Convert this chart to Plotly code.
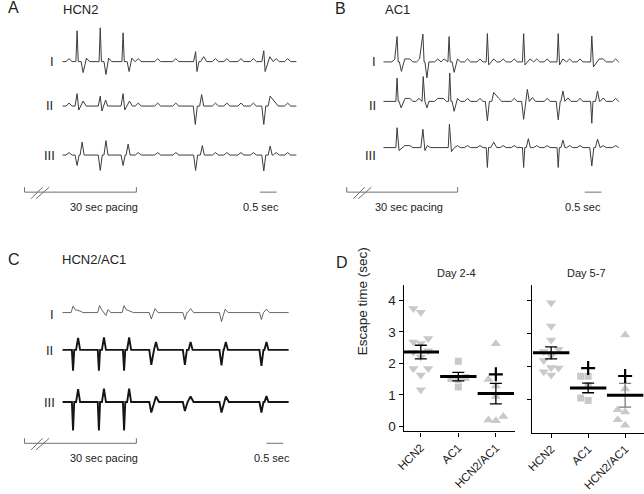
import plotly.graph_objects as go

W, H = 644, 494
FONT = "Arial, Liberation Sans, sans-serif"
PX_PER_S = 34.0  # horizontal scale of the ECG strips (px per second)

# ---------------- ECG strips: peak times (s) and peak amplitudes (a.u.) ----------------
# A  HCN2
a_I_t = [0.20, 0.44, 0.62, 0.72, 1.13, 1.30, 1.38, 1.81, 1.99, 2.07, 2.26, 2.84, 3.38,
         3.97, 4.01, 4.21, 4.56, 4.90, 5.32, 5.69, 6.00, 6.04, 6.18, 6.37, 6.71]
a_I_v = [0.3, 3.1, -1.1, 0.35, 3.4, -1.3, 0.35, 2.9, -1.0, 0.35, 0.3, 0.3, 0.3,
         1.0, -1.0, 0.5, 0.3, 0.3, 0.3, 0.3, 1.1, -1.0, 0.5, 0.3, 0.3]
a_II_t = [0.20, 0.44, 0.49, 0.62, 1.13, 1.18, 1.29, 1.81, 1.86, 2.00, 2.26, 2.84, 3.38,
          3.96, 4.15, 4.56, 4.90, 5.32, 5.69, 6.00, 6.19, 6.34, 6.71]
a_II_v = [0.3, 1.25, -0.4, 0.5, 1.0, -0.5, 0.6, 1.25, -0.4, 0.5, 0.3, 0.3, 0.3,
          -1.85, 1.15, 0.3, 0.3, 0.3, 0.3, -1.85, 1.0, 0.4, 0.3]
a_III_t = [0.20, 0.44, 0.59, 1.13, 1.30, 1.81, 1.96, 2.26, 2.84, 3.38,
           3.97, 4.17, 4.56, 4.90, 5.32, 5.69, 6.00, 6.19, 6.37, 6.71]
a_III_v = [0.25, -1.05, 1.3, -1.55, 1.45, -1.05, 1.1, 0.25, 0.25, 0.25,
           -1.55, 0.95, 0.25, 0.25, 0.25, 0.25, -1.6, 0.9, 0.25, 0.25]

# B  AC1
b_I_t = [0.34, 0.41, 0.54, 0.64, 0.79, 1.08, 1.18, 1.30, 1.62, 1.81, 1.96, 2.11, 2.21, 2.51, 2.88,
         3.10, 3.14, 3.29, 3.57, 3.90, 4.18, 4.22, 4.37, 4.57, 4.88, 5.21, 5.25, 5.35, 5.55, 5.86,
         6.21, 6.26, 6.43, 6.55, 6.92]
b_I_v = [0.25, 2.55, -0.95, 0.3, 0.3, 0.3, 2.8, -1.6, 0.3, 0.3, 2.55, -1.05, 0.3, 0.3, 0.3,
         2.85, -0.3, 0.3, 0.3, 0.3, 2.85, -0.3, 0.3, 0.3, 0.3, 2.85, -0.3, 0.3, 0.3, 0.3,
         2.6, -0.5, 0.3, 0.3, 0.3]
b_II_t = [0.41, 0.53, 0.65, 0.79, 1.06, 1.19, 1.30, 1.62, 1.79, 1.98, 2.11, 2.21, 2.51, 2.88,
          3.10, 3.29, 3.44, 3.90, 4.18, 4.29, 4.44, 4.88, 5.21, 5.35, 5.50, 5.86,
          6.21, 6.38, 6.55, 6.92]
b_II_v = [2.35, -0.65, 0.3, 0.3, 0.3, 2.5, -0.65, 0.3, 0.3, 2.85, -1.0, 0.3, 0.3, 0.3,
          -1.95, 0.9, 0.3, 0.3, -1.8, 1.2, 0.4, 0.3, -1.85, 1.05, 0.35, 0.3,
          -2.2, 1.05, 0.35, 0.3]
b_III_t = [0.41, 0.47, 0.64, 0.79, 1.18, 1.24, 1.31, 1.97, 2.03, 2.21, 2.51, 2.88,
           3.10, 3.29, 3.57, 3.90, 4.18, 4.32, 4.57, 4.88, 5.21, 5.35, 5.55, 5.86,
           6.21, 6.38, 6.55, 6.92]
b_III_v = [2.0, -0.3, 0.2, 0.2, 1.85, -0.3, 0.2, 2.35, -0.4, 0.2, 0.2, 0.2,
           -2.0, 0.55, 0.2, 0.2, -2.0, 0.9, 0.2, 0.2, -2.0, 0.75, 0.2, 0.2,
           -1.85, 0.85, 0.2, 0.2]

# C  HCN2/AC1
c_I_t = [0.32, 0.38, 0.53, 1.11, 1.17, 1.30, 1.36, 1.84, 1.90, 2.03,
         2.65, 2.76, 3.65, 3.82, 4.74, 4.85, 5.93, 6.08]
c_I_v = [0.65, 0.3, 0.15, 0.7, 0.3, -0.3, 0.3, 0.7, 0.3, 0.15,
         -0.65, 0.4, -0.7, 0.4, -0.9, 0.35, -0.7, 0.35]
c_II_t = [0.32, 0.47, 1.09, 1.24, 1.84, 1.99, 2.65, 2.79, 3.65, 3.82, 4.74, 4.87, 5.93, 6.08]
c_II_v = [-2.1, 1.2, -2.1, 1.25, -2.1, 1.25, -1.5, 0.8, -1.5, 0.8, -1.55, 0.8, -1.6, 0.8]
c_III_t = [0.32, 0.47, 1.09, 1.24, 1.84, 1.99, 2.65, 2.79, 3.65, 3.82, 4.74, 4.87, 5.93, 6.08]
c_III_v = [-2.85, 1.3, -2.85, 1.35, -2.85, 1.35, -1.05, 0.55, -0.9, 0.55, -1.05, 0.55, -1.05, 0.6]

strip_end = [6.97, 7.0, 6.74]          # recording length shown in A, B, C (s)
scale_bar_s = 0.5

# ---------------- D: escape time (sec) ----------------
groups = ["HCN2", "AC1", "HCN2/AC1"]
d24_hcn2 = [3.74, 3.62, 2.79, 2.68, 2.63, 2.40, 2.35, 2.20, 1.84, 1.84, 1.63, 1.16]
d24_ac1 = [2.07, 1.55, 1.52, 1.49, 1.25]
d24_combo = [2.62, 1.49, 1.28, 0.95, 0.31, 0.20, 0.18]
d24_mean = [2.36, 1.58, 1.04]
d24_sem = [0.215, 0.135, 0.325]
d24_plus = [None, None, 1.65]

d57_hcn2 = [3.92, 3.22, 2.80, 2.52, 2.45, 2.32, 2.18, 1.97, 1.95, 1.84, 1.74]
d57_ac1 = [1.70, 1.70, 1.42, 1.05, 0.97]
d57_combo = [2.95, 1.32, 0.69, 0.62, 0.39, 0.22]
d57_mean = [2.41, 1.35, 1.13]
d57_sem = [0.18, 0.145, 0.36]
d57_plus = [None, 1.95, 1.71]


def px_x(p):
    return p / W


def px_y(p):
    return 1 - p / H


def halfwidth(v):
    a = abs(v)
    if a >= 2:
        return 0.035
    if a >= 0.6:
        return 0.06
    return 0.09


def strip(ts, vs, t_end):
    # baseline with triangular deflections at the given peaks
    pk = sorted(zip(ts, vs))
    xs, ys = [0.0], [0.0]
    joined = False
    for i, (t, v) in enumerate(pk):
        w = halfwidth(v)
        if not joined and t - w > xs[-1]:
            xs.append(t - w)
            ys.append(0.0)
        xs.append(t)
        ys.append(v)
        joined = i + 1 < len(pk) and pk[i + 1][0] - halfwidth(pk[i + 1][1]) <= t + w
        if not joined:
            xs.append(t + w)
            ys.append(0.0)
    xs.append(t_end)
    ys.append(0.0)
    return xs, ys


def swarm(vals, px_unit, px_cat, step=7.5, diam=7.5):
    placed = []
    offs = [0.0] * len(vals)
    for i in sorted(range(len(vals)), key=lambda j: vals[j]):
        y = vals[i] * px_unit
        x = 0.0
        for k in [0, -1, 1, -2, 2, -3, 3]:
            x = k * step
            if all((x - a) ** 2 + (y - b) ** 2 >= diam ** 2 for a, b in placed):
                break
        placed.append((x, y))
        offs[i] = x / px_cat
    return offs


fig = go.Figure()

# ECG panels
ecg = [
    ("x", "y", [(a_I_t, a_I_v), (a_II_t, a_II_v), (a_III_t, a_III_v)], [-4.2, -8.67, -13.6],
     [("#3c3c3c", 1.0)] * 3),
    ("x2", "y2", [(b_I_t, b_I_v), (b_II_t, b_II_v), (b_III_t, b_III_v)], [-4.23, -8.2, -12.85],
     [("#3c3c3c", 1.0)] * 3),
    ("x3", "y3", [(c_I_t, c_I_v), (c_II_t, c_II_v), (c_III_t, c_III_v)], [-3.45, -7.2, -12.45],
     [("#555555", 0.9), ("#151515", 1.9), ("#151515", 1.9)]),
]
for p, (xa, ya, leads, offs, sty) in enumerate(ecg):
    for (ts, vs), off, (col, lw) in zip(leads, offs, sty):
        xs, ys = strip(ts, vs, strip_end[p])
        fig.add_trace(go.Scatter(x=xs, y=[off + y for y in ys], mode="lines",
                                 line=dict(color=col, width=lw), xaxis=xa, yaxis=ya,
                                 hoverinfo="skip"))

# D panels
GRAY = "#c9c9c9"
symbols = ["triangle-down", "square", "triangle-up"]
sizes = [9, 7, 9]
dsets = [
    ("x4", "y4", [d24_hcn2, d24_ac1, d24_combo], d24_mean, d24_sem, d24_plus,
     31.7, 38.0, ["black", "black", "black"]),
    ("x5", "y5", [d57_hcn2, d57_ac1, d57_combo], d57_mean, d57_sem, d57_plus,
     33.3, 37.5, ["black", "black", "#7a7a7a"]),
]
for xa, ya, vals, mean, sem, plus, pxu, pxc, ecol in dsets:
    for k, v in enumerate(vals):
        o = swarm(v, pxu, pxc)
        fig.add_trace(go.Scatter(x=[k + d for d in o], y=v, mode="markers", xaxis=xa, yaxis=ya,
                                 marker=dict(symbol=symbols[k], size=sizes[k], color=GRAY,
                                             line=dict(width=0))))
    for k in range(3):
        fig.add_trace(go.Scatter(
            x=[k], y=[mean[k]], mode="markers", xaxis=xa, yaxis=ya,
            error_y=dict(type="data", array=[sem[k]], color=ecol[k], thickness=1.3, width=6),
            marker=dict(symbol="line-ew", size=26, color="black",
                        line=dict(color="black", width=3))))
    px_ = [k for k in range(3) if plus[k] is not None]
    fig.add_trace(go.Scatter(x=px_, y=[plus[k] for k in px_], mode="markers", xaxis=xa, yaxis=ya,
                             marker=dict(symbol="cross-thin", size=10, color="black",
                                         line=dict(color="black", width=2.2))))

hidden = dict(visible=False, fixedrange=True)
ecg_w = 240 / PX_PER_S
layout = dict(
    width=W, height=H, margin=dict(l=0, r=0, t=0, b=0),
    paper_bgcolor="white", plot_bgcolor="rgba(0,0,0,0)", showlegend=False,
    font=dict(family=FONT, color="#222"),
    xaxis=dict(domain=[px_x(55), px_x(295)], range=[0, ecg_w], **hidden),
    yaxis=dict(domain=[px_y(180), px_y(20)], range=[-16, 0], **hidden),
    xaxis2=dict(domain=[px_x(380), px_x(620)], range=[0, ecg_w], **hidden),
    yaxis2=dict(domain=[px_y(180), px_y(20)], range=[-16, 0], **hidden),
    xaxis3=dict(domain=[px_x(55), px_x(295)], range=[0, ecg_w], **hidden),
    yaxis3=dict(domain=[px_y(440), px_y(280)], range=[-16, 0], **hidden),
)
dax = dict(showline=True, linecolor="black", linewidth=1.3, ticks="outside", ticklen=4,
           tickwidth=1.3, tickcolor="black", showgrid=False, zeroline=False, fixedrange=True)
layout["xaxis4"] = dict(domain=[px_x(400.7), px_x(513)], range=[-0.455, 2.5], anchor="y4",
                        tickvals=[0, 1, 2], ticktext=groups, tickangle=-45,
                        tickfont=dict(size=11.5, family=FONT, color="#222"), **dax)
layout["yaxis4"] = dict(domain=[px_y(434), px_y(287)], range=[-0.16, 4.48], anchor="x4",
                        tickvals=[0, 1, 2, 3, 4], tickfont=dict(size=13.5, family=FONT, color="#222"),
                        **dax)
layout["xaxis5"] = dict(domain=[px_x(530.7), 1.0], range=[-0.515, 2.51], anchor="y5",
                        tickvals=[0, 1, 2], ticktext=groups, tickangle=-45,
                        tickfont=dict(size=11.5, family=FONT, color="#222"), **dax)
layout["yaxis5"] = dict(domain=[px_y(435.3), px_y(287)], range=[0, 4.45], anchor="x5",
                        tickvals=[1, 2, 3, 4], showticklabels=False, **dax)
fig.update_layout(**layout)

# text
labels = [
    ("A", 6, 8, 16), ("HCN2", 73, 10, 13), ("B", 337, 9, 16), ("AC1", 394, 10, 13),
    ("C", 6, 261, 16), ("HCN2/AC1", 87, 261, 13), ("D", 338, 264, 16),
    ("I", 45, 62, 13), ("II", 42.5, 106.5, 13), ("III", 42, 156, 13),
    ("I", 371, 62, 13), ("II", 369.5, 106.5, 13), ("III", 367, 156, 13),
    ("I", 45, 316, 13), ("II", 42, 353, 13), ("III", 42, 405, 13),
    ("30 sec pacing", 97, 208, 11), ("0.5 sec", 256, 208, 11),
    ("30 sec pacing", 406, 208, 11), ("0.5 sec", 582, 208, 11),
    ("30 sec pacing", 97, 461, 11), ("0.5 sec", 267, 461, 11),
    ("Day 2-4", 454, 275, 11), ("Day 5-7", 586, 275, 11),
]
for txt, x, y, s in labels:
    fig.add_annotation(text=txt, x=px_x(x), y=px_y(y), xref="paper", yref="paper",
                       showarrow=False, xanchor="center", yanchor="middle",
                       font=dict(size=s, family=FONT, color="#222"))
fig.add_annotation(text="Escape time (sec)", x=px_x(359), y=px_y(360), xref="paper", yref="paper",
                   showarrow=False, textangle=-90, font=dict(size=13.5, family=FONT, color="#222"))

# pacing brackets with break marks, and 0.5 s scale bars
BR = "#707070"
for left, right, yb in [(16.7, 130, 193.3), (343, 455.3, 193.3), (16.7, 130, 446)]:
    for x0, y0, x1, y1 in [(left, yb, right, yb), (left, yb, left, yb - 5), (right, yb, right, yb - 5),
                           (left + 6.6, yb + 6.7, left + 18.3, yb - 5),
                           (left + 11.6, yb + 6.7, left + 25, yb - 5)]:
        fig.add_shape(type="line", xref="paper", yref="paper", x0=px_x(x0), y0=px_y(y0),
                      x1=px_x(x1), y1=px_y(y1), line=dict(color=BR, width=1))
for xa, start, yb in [("x", 5.88, 193.3), ("x2", 6.0, 193.3), ("x3", 6.08, 446)]:
    fig.add_shape(type="line", xref=xa, yref="paper", x0=start, x1=start + scale_bar_s,
                  y0=px_y(yb), y1=px_y(yb), line=dict(color=BR, width=1))

# drop the page's default body margin so the figure fills the window
fig.write_html("out.html", config={"displayModeBar": False},
               post_script="document.body.style.margin = '0';")
